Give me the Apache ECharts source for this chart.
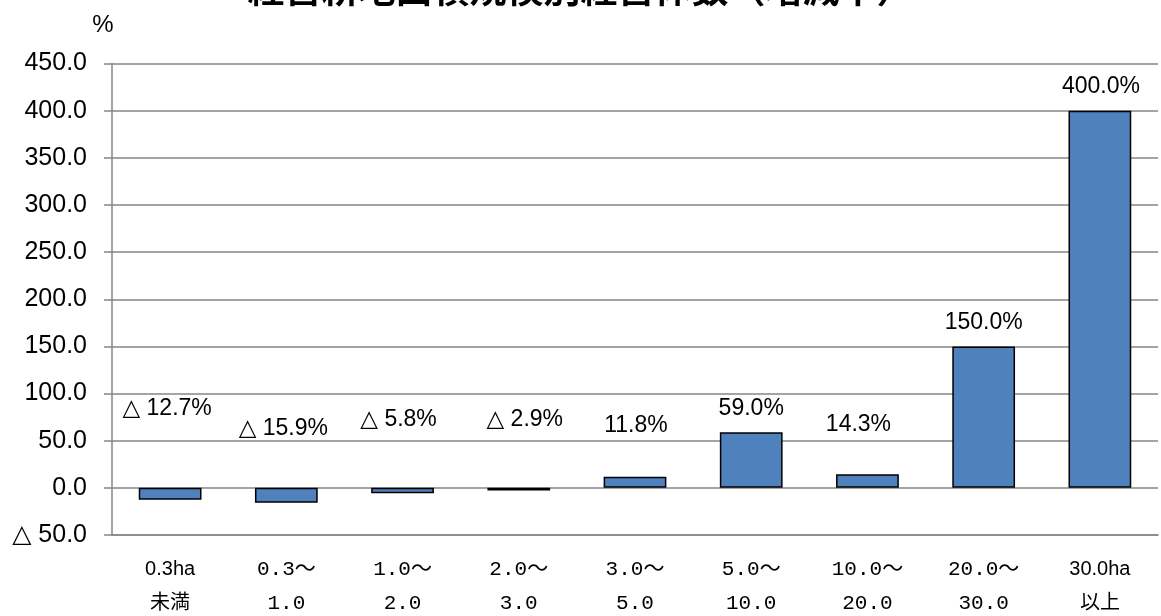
<!DOCTYPE html>
<html>
<head>
<meta charset="utf-8">
<script src="https://cdn.jsdelivr.net/npm/echarts@6/dist/echarts.min.js"></script>
<style>
  html, body { margin: 0; padding: 0; background: #fff; }
  #chart { width: 1161px; height: 616px; }
</style>
</head>
<body>
<div id="chart"></div>
<script>
// 経営耕地面積規模別 経営体数の増減率 (%)
const categories = ['0.3ha\n未満', '0.3～\n1.0', '1.0～\n2.0', '2.0～\n3.0', '3.0～\n5.0',
  '5.0～\n10.0', '10.0～\n20.0', '20.0～\n30.0', '30.0ha\n以上']
const changeRates = [-12.7, -15.9, -5.8, -2.9, 11.8, 59.0, 14.3, 150.0, 400.0]

// data labels were hand-placed in the original, so nudge each one
const labelOffsets = [[-3, -63], [-3, -43], [-4, -52], [6, -52], [1, -35], [0, -7], [-9, -33], [0, -7], [1, -7]]

const sans = "'Liberation Sans', 'DejaVu Sans', 'Noto Sans CJK JP'"
const mono = "'Liberation Mono', 'Noto Sans CJK JP'"

function fmtDelta(v, digits) {
  return v < 0 ? '△ ' + Math.abs(v).toFixed(digits) : v.toFixed(digits)
}

const chart = echarts.init(document.getElementById('chart'))

chart.setOption({
  animation: false,
  title: {
    text: '経営耕地面積規模別経営体数（増減率）',
    left: 'center',
    top: -35,
    textStyle: { fontFamily: "'Noto Sans CJK JP'", fontSize: 37, fontWeight: 'bold', color: '#000' }
  },
  grid: { left: 112, right: 3, top: 63.5, bottom: 81 },
  xAxis: {
    type: 'category',
    data: categories,
    axisLine: { onZero: false, lineStyle: { color: '#868686', width: 1.5 } },
    axisTick: { show: false },
    axisLabel: {
      margin: 17,
      formatter: function (v) {
        const plain = /ha/.test(v)
        return v.split('\n').map(s => (plain ? '{s|' : '{m|') + s + '}').join('\n')
      },
      rich: {
        s: { fontFamily: sans, fontSize: 20, lineHeight: 34, color: '#000' },
        m: { fontFamily: mono, fontSize: 21, lineHeight: 34, color: '#000' }
      }
    }
  },
  yAxis: {
    type: 'value',
    min: -50,
    max: 450,
    interval: 50,
    name: '%',
    nameLocation: 'end',
    nameGap: 26,
    nameTextStyle: { fontFamily: sans, fontSize: 24, color: '#000', padding: [0, 18, 0, 0] },
    axisLine: { show: true, lineStyle: { color: '#868686', width: 1.5 } },
    axisTick: { show: true, length: 8, lineStyle: { color: '#868686', width: 1.5 } },
    splitLine: { lineStyle: { color: '#868686', width: 1.5 } },
    axisLabel: {
      margin: 25,
      fontFamily: sans,
      fontSize: 25,
      color: '#000',
      formatter: v => fmtDelta(v, 1)
    }
  },
  series: [{
    type: 'bar',
    barWidth: '54%',
    data: changeRates.map((v, i) => ({
      value: v,
      label: { offset: labelOffsets[i] }
    })),
    itemStyle: { color: '#4F81BD', borderColor: '#000', borderWidth: 1.5 },
    label: {
      show: true,
      position: 'top',
      fontFamily: sans,
      fontSize: 23,
      color: '#000',
      formatter: p => fmtDelta(p.value, 1) + '%'
    }
  }]
})
</script>
</body>
</html>
